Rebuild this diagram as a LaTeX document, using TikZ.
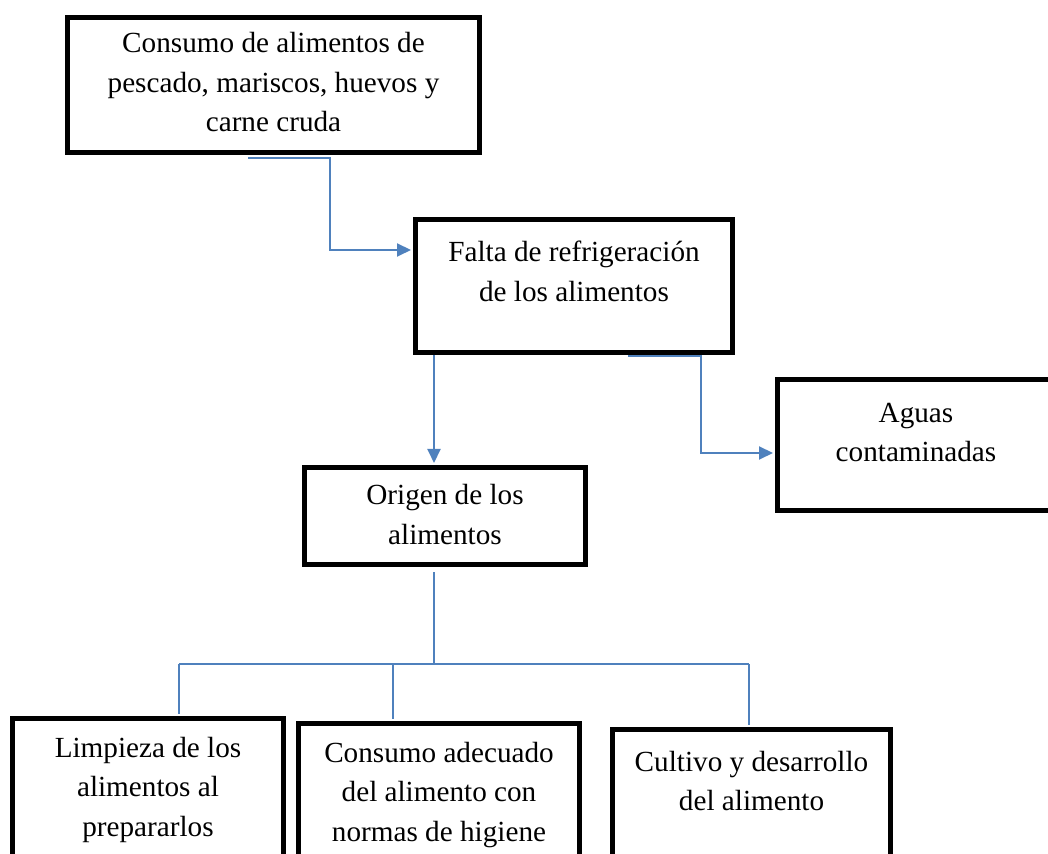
\documentclass[tikz,border=0pt]{standalone}
\usepackage{fontspec}
\setmainfont{Liberation Serif}
\usetikzlibrary{arrows.meta,positioning}
\definecolor{azul}{RGB}{79,129,189}

\begin{document}
\begin{tikzpicture}
[
	x=0.5pt, y=-0.5pt,
	caja/.style={draw,line width=2.5pt,inner sep=0pt},
	texto/.style={align=center,inner sep=0pt,anchor=base,font=\fontsize{14.6}{19.75}\selectfont},
	linea/.style={azul,line width=1pt},
	flecha/.style={azul,line width=1pt,-{Triangle[length=7pt,width=6.5pt]},shorten >=1pt}
]

	% area visible
	\clip (0,0) rectangle (1048,854);

	% cajas
	\node[caja,minimum width=206pt,minimum height=67.5pt] (consumo) at (273.5,85) {};
	\node[caja,minimum width=158.5pt,minimum height=66.5pt] (falta) at (574,286) {};
	\node[caja,minimum width=138.5pt,minimum height=65.5pt] (aguas) at (916,445) {};
	\node[caja,minimum width=140.5pt,minimum height=48.5pt] (origen) at (445,516) {};
	\node[caja,minimum width=135.5pt,minimum height=89.5pt] (limpieza) at (148,808) {};
	\node[caja,minimum width=140.5pt,minimum height=87pt] (adecuado) at (439,810.5) {};
	\node[caja,minimum width=139pt,minimum height=84pt] (cultivo) at (751.5,813.5) {};

	% textos (base = ultima linea)
	\node[texto] (t-consumo) at ([shift={(0,117)}]consumo.north)
		{Consumo de alimentos de\\pescado, mariscos, huevos y\\carne cruda};
	\node[texto] (t-falta) at ([shift={(0,84.5)}]falta.north)
		{Falta de refrigeración\\de los alimentos};
	\node[texto] (t-aguas) at ([shift={(0,85)}]aguas.north)
		{Aguas\\contaminadas};
	\node[texto] (t-origen) at ([shift={(0,79.5)}]origen.north)
		{Origen de los\\alimentos};
	\node[texto] (t-limpieza) at ([shift={(0,120)}]limpieza.north)
		{Limpieza de los\\alimentos al\\prepararlos};
	\node[texto] (t-adecuado) at ([shift={(0,120)}]adecuado.north)
		{Consumo adecuado\\del alimento con\\normas de higiene};
	\node[texto] (t-cultivo) at ([shift={(0,83.5)}]cultivo.north)
		{Cultivo y desarrollo\\del alimento};

	% conectores
	\coordinate (c1) at (330,250);
	\draw[flecha] ([shift={(-25.5,3.5)}]consumo.south) -| (c1) -- (c1 -| falta.west);
	\draw[flecha] ([xshift=-70pt]falta.south) -- ([xshift=-5.5pt]origen.north);
	\draw[flecha] ([shift={(54,1.5)}]falta.south) -| ([shift={(-74.5,8)}]aguas.west)
		-- ([shift={(0,8)}]aguas.west);

	% ramas de origen
	\draw[linea] ([shift={(-11,5.5)}]origen.south) -- ++(0,90);
	\coordinate (r1) at (179,664);
	\coordinate (r2) at (393,664);
	\coordinate (r3) at (749,664);
	\draw[linea] (r1) -- (r3);
	\foreach \r/\destino in {r1/limpieza,r2/adecuado,r3/cultivo} {
		\draw[linea,shorten >=1.25pt] (\r) -- (\r |- \destino.north);
	}

\end{tikzpicture}
\end{document}
